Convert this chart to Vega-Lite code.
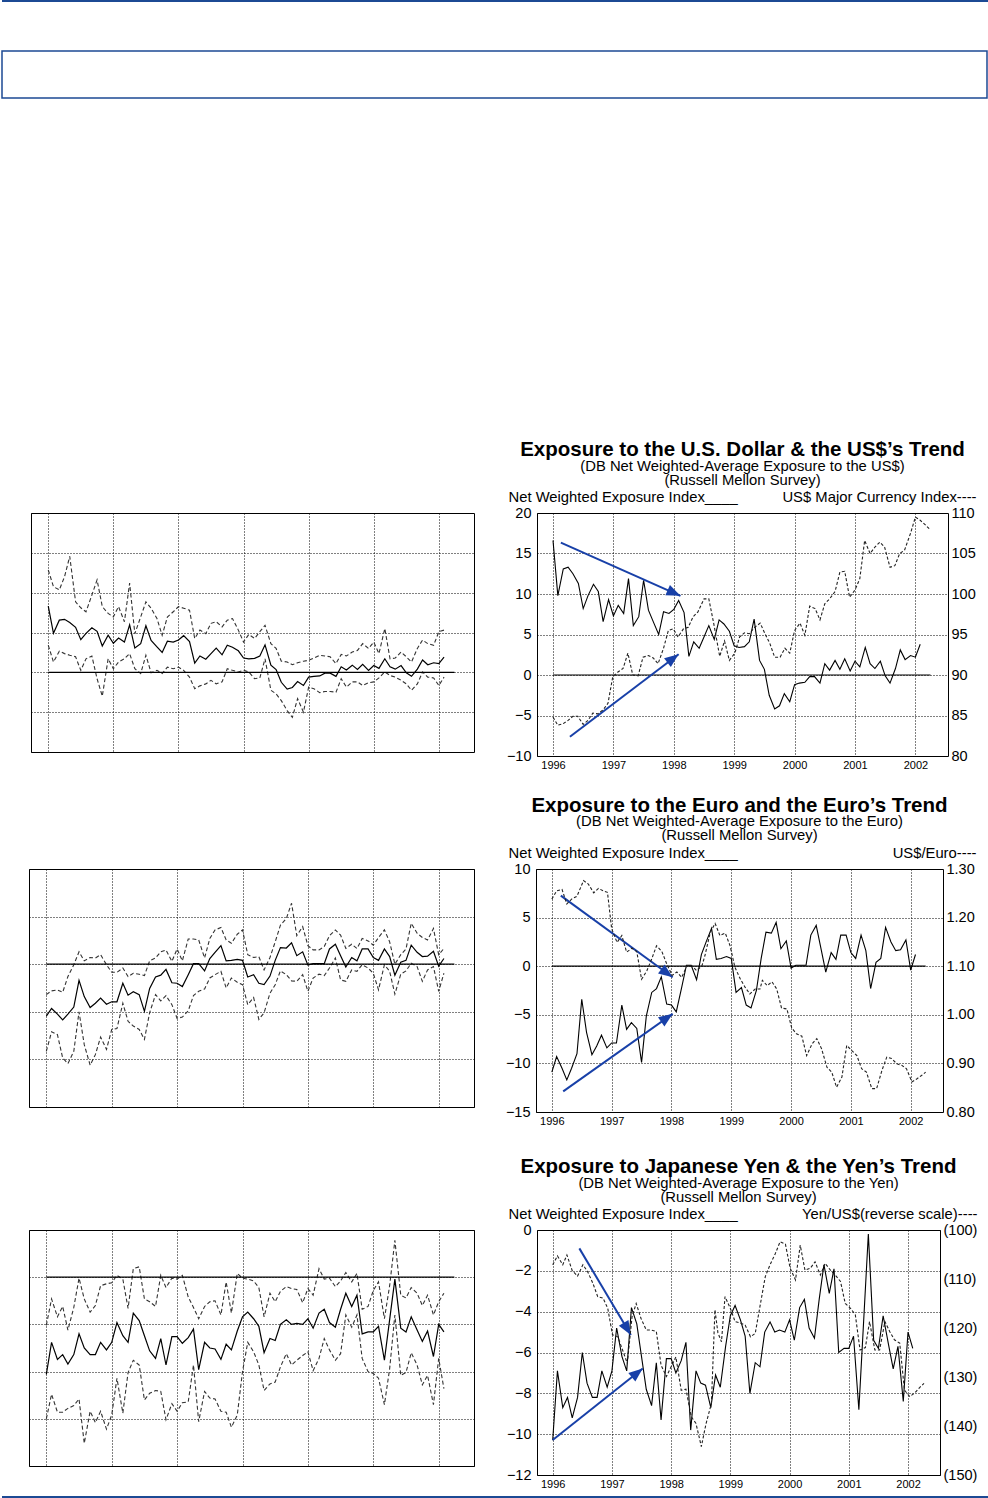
{
"$schema": "https://vega.github.io/schema/vega-lite/v6.json",
"padding": {"left": 1, "top": 0, "right": 0, "bottom": 0},
"spacing": 0,
"align": "each",
"datasets": {
"usd": [
{"t":1996,"n":16.6,"u":25.7,"l":6.8},{"t":1996.08,"n":9.8,"u":21.5,"l":2.6},{"t":1996.17,"n":13.1,"u":20.7,"l":5.3},{"t":1996.25,"n":13.3,"u":24.0,"l":4.7},{"t":1996.33,"n":12.5,"u":29.1,"l":4.3},{"t":1996.42,"n":11.3,"u":17.7,"l":3.9},{"t":1996.5,"n":8.2,"u":16.2,"l":0.5},{"t":1996.58,"n":9.8,"u":15.2,"l":3.4},{"t":1996.67,"n":11.2,"u":19.4,"l":4.1},{"t":1996.75,"n":10.3,"u":23.2,"l":-1.6},{"t":1996.83,"n":6.6,"u":16.5,"l":-6.0},{"t":1996.92,"n":9.3,"u":14.8,"l":3.4},
{"t":1997,"n":7.3,"u":13.9,"l":0.9},{"t":1997.08,"n":8.6,"u":16.5,"l":2.6},{"t":1997.17,"n":7.6,"u":12.7,"l":3.4},{"t":1997.25,"n":11.9,"u":22.4,"l":4.7},{"t":1997.33,"n":6.1,"u":9.7,"l":0.9},{"t":1997.42,"n":7.2,"u":13.9,"l":-0.3},{"t":1997.5,"n":11.7,"u":17.7,"l":4.3},{"t":1997.58,"n":8.0,"u":16.1,"l":-0.1},{"t":1997.67,"n":6.4,"u":13.5,"l":0.5},{"t":1997.75,"n":5.0,"u":9.3,"l":-0.3},{"t":1997.83,"n":7.8,"u":13.9,"l":1.3},{"t":1997.92,"n":7.6,"u":15.2,"l":0.9},
{"t":1998,"n":8.1,"u":16.5,"l":1.3},{"t":1998.08,"n":9.2,"u":16.1,"l":0.5},{"t":1998.17,"n":7.7,"u":15.6,"l":-1.2},{"t":1998.25,"n":2.3,"u":8.5,"l":-4.1},{"t":1998.33,"n":4.1,"u":10.6,"l":-3.4},{"t":1998.42,"n":3.3,"u":9.7,"l":-2.9},{"t":1998.5,"n":4.7,"u":12.3,"l":-2.0},{"t":1998.58,"n":6.1,"u":12.7,"l":-2.9},{"t":1998.67,"n":4.4,"u":11.4,"l":-2.4},{"t":1998.75,"n":6.8,"u":13.1,"l":0.9},{"t":1998.83,"n":6.3,"u":13.5,"l":0.5},{"t":1998.92,"n":5.4,"u":10.6,"l":0.1},
{"t":1999,"n":3.6,"u":7.6,"l":0.5},{"t":1999.08,"n":3.4,"u":9.5,"l":0.1},{"t":1999.17,"n":3.5,"u":8.5,"l":-1.6},{"t":1999.25,"n":4.1,"u":10.2,"l":-1.4},{"t":1999.33,"n":6.9,"u":11.8,"l":3.4},{"t":1999.42,"n":1.8,"u":7.2,"l":-4.5},{"t":1999.5,"n":0.7,"u":6.0,"l":-5.4},{"t":1999.58,"n":-2.5,"u":2.8,"l":-7.1},{"t":1999.67,"n":-4.2,"u":2.6,"l":-9.6},{"t":1999.75,"n":-3.8,"u":1.9,"l":-11.3},{"t":1999.83,"n":-2.3,"u":2.4,"l":-6.6},{"t":1999.92,"n":-3.3,"u":2.8,"l":-10.0},
{"t":2000,"n":-1.2,"u":3.0,"l":-3.7},{"t":2000.08,"n":-1.0,"u":3.6,"l":-4.1},{"t":2000.17,"n":-0.9,"u":4.3,"l":-5.1},{"t":2000.25,"n":-0.2,"u":4.1,"l":-4.8},{"t":2000.33,"n":-0.2,"u":3.9,"l":-4.8},{"t":2000.42,"n":-1.0,"u":2.2,"l":-5.0},{"t":2000.5,"n":1.4,"u":4.5,"l":-1.6},{"t":2000.58,"n":0.6,"u":4.1,"l":-3.7},{"t":2000.67,"n":1.8,"u":5.1,"l":-2.4},{"t":2000.75,"n":0.7,"u":5.5,"l":-2.4},{"t":2000.83,"n":2.0,"u":7.2,"l":-3.3},{"t":2000.92,"n":0.5,"u":6.0,"l":-2.6},
{"t":2001,"n":1.7,"u":7.6,"l":-2.4},{"t":2001.08,"n":1.0,"u":4.7,"l":-1.4},{"t":2001.17,"n":3.4,"u":11.0,"l":0.1},{"t":2001.25,"n":1.4,"u":3.4,"l":-0.8},{"t":2001.33,"n":0.8,"u":3.6,"l":-1.2},{"t":2001.42,"n":1.7,"u":5.1,"l":-2.0},{"t":2001.5,"n":-0.1,"u":3.9,"l":-2.9},{"t":2001.58,"n":-1.0,"u":2.6,"l":-4.5},{"t":2001.67,"n":0.8,"u":6.0,"l":-2.9},{"t":2001.75,"n":3.1,"u":8.1,"l":0.1},{"t":2001.83,"n":1.9,"u":7.2,"l":-1.2},{"t":2001.92,"n":2.4,"u":6.8,"l":-1.4},
{"t":2002,"n":2.2,"u":10.2,"l":-3.3},{"t":2002.08,"n":3.8,"u":10.6,"l":-1.2}
],
"usdx": [
{"t":1996,"v":84.8},{"t":1996.08,"v":83.8},{"t":1996.17,"v":84.0},{"t":1996.25,"v":84.4},{"t":1996.33,"v":84.9},{"t":1996.41,"v":84.9},{"t":1996.5,"v":83.9},{"t":1996.58,"v":84.4},{"t":1996.66,"v":85.3},{"t":1996.74,"v":85.2},{"t":1996.83,"v":85.7},{"t":1996.91,"v":86.5},
{"t":1996.99,"v":89.8},{"t":1997.08,"v":90.4},{"t":1997.16,"v":90.8},{"t":1997.24,"v":92.7},{"t":1997.32,"v":90.0},{"t":1997.41,"v":89.9},{"t":1997.49,"v":92.2},{"t":1997.58,"v":92.4},{"t":1997.66,"v":92.1},{"t":1997.74,"v":91.4},{"t":1997.83,"v":93.3},{"t":1997.91,"v":95.5},
{"t":1997.99,"v":95.7},{"t":1998.07,"v":94.7},{"t":1998.16,"v":95.7},{"t":1998.24,"v":95.9},{"t":1998.32,"v":97.2},{"t":1998.4,"v":97.8},{"t":1998.5,"v":99.4},{"t":1998.58,"v":99.4},{"t":1998.66,"v":96.4},{"t":1998.76,"v":92.3},{"t":1998.84,"v":94.2},{"t":1998.92,"v":91.8},
{"t":1999.01,"v":92.7},{"t":1999.09,"v":94.7},{"t":1999.17,"v":95.2},{"t":1999.25,"v":95.1},{"t":1999.34,"v":95.9},{"t":1999.43,"v":96.4},{"t":1999.51,"v":95.1},{"t":1999.59,"v":93.9},{"t":1999.67,"v":92.2},{"t":1999.76,"v":92.2},{"t":1999.84,"v":93.3},{"t":1999.92,"v":92.7},
{"t":2000,"v":95.5},{"t":2000.09,"v":96.4},{"t":2000.17,"v":94.9},{"t":2000.25,"v":98.5},{"t":2000.34,"v":98.2},{"t":2000.42,"v":96.8},{"t":2000.5,"v":98.8},{"t":2000.58,"v":99.4},{"t":2000.67,"v":100.3},{"t":2000.75,"v":102.7},{"t":2000.83,"v":102.8},{"t":2000.91,"v":99.6},
{"t":2001,"v":100.5},{"t":2001.08,"v":101.9},{"t":2001.16,"v":106.6},{"t":2001.25,"v":105.0},{"t":2001.33,"v":105.8},{"t":2001.41,"v":106.4},{"t":2001.49,"v":105.8},{"t":2001.58,"v":103.3},{"t":2001.66,"v":103.5},{"t":2001.74,"v":105.0},{"t":2001.82,"v":105.4},{"t":2001.92,"v":107.5},
{"t":2002,"v":109.5},{"t":2002.08,"v":109.1},{"t":2002.17,"v":108.5},{"t":2002.25,"v":107.9}
],
"eur": [
{"t":1996,"n":-10.9,"u":-6.4,"l":-18.3},{"t":1996.08,"n":-9.3,"u":-5.6,"l":-14.2},{"t":1996.17,"n":-10.5,"u":-5.4,"l":-14.8},{"t":1996.25,"n":-11.7,"u":-5.9,"l":-19.7},{"t":1996.33,"n":-10.5,"u":-2.6,"l":-20.9},{"t":1996.42,"n":-9.0,"u":-0.1,"l":-18.3},{"t":1996.5,"n":-3.4,"u":2.6,"l":-10.0},{"t":1996.58,"n":-6.8,"u":0.7,"l":-16.9},{"t":1996.67,"n":-9.1,"u":1.4,"l":-21.2},{"t":1996.75,"n":-8.2,"u":1.3,"l":-19.0},{"t":1996.83,"n":-7.1,"u":2.0,"l":-15.3},{"t":1996.92,"n":-8.4,"u":-0.1,"l":-17.9},
{"t":1997,"n":-7.9,"u":-1.7,"l":-13.7},{"t":1997.08,"n":-7.9,"u":-1.7,"l":-13.5},{"t":1997.17,"n":-4.0,"u":-0.8,"l":-8.2},{"t":1997.25,"n":-6.5,"u":-2.6,"l":-12.0},{"t":1997.33,"n":-5.8,"u":-1.9,"l":-13.0},{"t":1997.42,"n":-6.4,"u":-2.1,"l":-13.7},{"t":1997.5,"n":-9.9,"u":-2.4,"l":-15.8},{"t":1997.58,"n":-5.1,"u":0.7,"l":-10.2},{"t":1997.67,"n":-2.7,"u":1.3,"l":-6.4},{"t":1997.75,"n":-2.3,"u":2.6,"l":-7.7},{"t":1997.83,"n":-1.1,"u":3.0,"l":-6.6},{"t":1997.92,"n":-3.9,"u":0.6,"l":-8.5},
{"t":1998,"n":-4.0,"u":3.2,"l":-11.4},{"t":1998.08,"n":-4.7,"u":0.7,"l":-11.1},{"t":1998.17,"n":-2.2,"u":5.3,"l":-9.8},{"t":1998.25,"n":0.1,"u":5.3,"l":-6.6},{"t":1998.33,"n":0.1,"u":5.1,"l":-5.7},{"t":1998.42,"n":-1.4,"u":1.3,"l":-5.2},{"t":1998.5,"n":1.2,"u":5.4,"l":-2.9},{"t":1998.58,"n":2.5,"u":7.2,"l":-2.2},{"t":1998.67,"n":3.9,"u":7.7,"l":-1.5},{"t":1998.75,"n":0.7,"u":5.1,"l":-5.0},{"t":1998.83,"n":0.8,"u":4.4,"l":-2.9},{"t":1998.92,"n":1.0,"u":6.3,"l":-3.8},
{"t":1999,"n":0.8,"u":7.2,"l":-4.3},{"t":1999.08,"n":-2.7,"u":2.0,"l":-8.5},{"t":1999.17,"n":-2.2,"u":1.4,"l":-7.0},{"t":1999.25,"n":-4.0,"u":1.6,"l":-11.6},{"t":1999.33,"n":-4.3,"u":-1.2,"l":-10.2},{"t":1999.42,"n":-2.5,"u":1.4,"l":-6.1},{"t":1999.5,"n":0.8,"u":4.7,"l":-4.3},{"t":1999.58,"n":3.5,"u":8.2,"l":-1.4},{"t":1999.67,"n":3.4,"u":9.6,"l":-2.2},{"t":1999.75,"n":4.5,"u":12.8,"l":-3.5},{"t":1999.83,"n":1.8,"u":6.0,"l":-3.6},{"t":1999.92,"n":2.6,"u":7.9,"l":-2.2},
{"t":2000,"n":-0.2,"u":3.9,"l":-5.7},{"t":2000.08,"n":0.1,"u":3.0,"l":-2.9},{"t":2000.17,"n":0.1,"u":3.0,"l":-2.1},{"t":2000.25,"n":0.1,"u":3.7,"l":-2.4},{"t":2000.33,"n":3.2,"u":6.0,"l":-0.8},{"t":2000.42,"n":4.2,"u":7.2,"l":1.3},{"t":2000.5,"n":1.8,"u":6.1,"l":-3.3},{"t":2000.58,"n":-0.6,"u":3.3,"l":-3.6},{"t":2000.67,"n":1.4,"u":4.2,"l":-1.2},{"t":2000.75,"n":0.7,"u":3.3,"l":-1.5},{"t":2000.83,"n":3.2,"u":5.4,"l":-0.1},{"t":2000.92,"n":3.2,"u":4.9,"l":-0.8},
{"t":2001,"n":1.4,"u":4.0,"l":-1.9},{"t":2001.08,"n":0.8,"u":5.6,"l":-5.4},{"t":2001.17,"n":3.2,"u":7.2,"l":-0.1},{"t":2001.25,"n":1.6,"u":4.7,"l":-1.5},{"t":2001.33,"n":-2.3,"u":0.0,"l":-6.3},{"t":2001.42,"n":0.4,"u":2.0,"l":-2.1},{"t":2001.5,"n":0.8,"u":3.2,"l":-1.4},{"t":2001.58,"n":4.0,"u":8.6,"l":0.2},{"t":2001.67,"n":2.5,"u":6.5,"l":-0.5},{"t":2001.75,"n":1.6,"u":5.6,"l":-3.6},{"t":2001.83,"n":1.7,"u":5.1,"l":-1.2},{"t":2001.92,"n":2.7,"u":7.5,"l":-0.5},
{"t":2002,"n":-0.4,"u":2.0,"l":-5.7},{"t":2002.08,"n":1.2,"u":3.3,"l":-1.9}
],
"eurx": [
{"t":1996,"v":1.238},{"t":1996.08,"v":1.255},{"t":1996.17,"v":1.258},{"t":1996.25,"v":1.228},{"t":1996.33,"v":1.238},{"t":1996.42,"v":1.244},{"t":1996.53,"v":1.276},{"t":1996.61,"v":1.269},{"t":1996.7,"v":1.251},{"t":1996.78,"v":1.26},{"t":1996.86,"v":1.255},{"t":1996.93,"v":1.252},
{"t":1997,"v":1.177},{"t":1997.09,"v":1.149},{"t":1997.17,"v":1.163},{"t":1997.25,"v":1.129},{"t":1997.34,"v":1.137},{"t":1997.42,"v":1.13},{"t":1997.5,"v":1.073},{"t":1997.59,"v":1.091},{"t":1997.67,"v":1.115},{"t":1997.75,"v":1.142},{"t":1997.84,"v":1.13},{"t":1997.92,"v":1.105},
{"t":1998.01,"v":1.081},{"t":1998.09,"v":1.088},{"t":1998.17,"v":1.077},{"t":1998.26,"v":1.101},{"t":1998.34,"v":1.101},{"t":1998.42,"v":1.091},{"t":1998.51,"v":1.101},{"t":1998.56,"v":1.122},{"t":1998.65,"v":1.17},{"t":1998.73,"v":1.188},{"t":1998.81,"v":1.163},{"t":1998.9,"v":1.168},{"t":1998.98,"v":1.142},
{"t":1999.06,"v":1.098},{"t":1999.15,"v":1.074},{"t":1999.23,"v":1.057},{"t":1999.31,"v":1.043},{"t":1999.4,"v":1.053},{"t":1999.48,"v":1.053},{"t":1999.52,"v":1.071},{"t":1999.6,"v":1.06},{"t":1999.68,"v":1.068},{"t":1999.76,"v":1.053},{"t":1999.84,"v":1.014},{"t":1999.93,"v":1.012},
{"t":2000.01,"v":0.973},{"t":2000.09,"v":0.961},{"t":2000.18,"v":0.956},{"t":2000.26,"v":0.916},{"t":2000.35,"v":0.94},{"t":2000.43,"v":0.951},{"t":2000.51,"v":0.93},{"t":2000.6,"v":0.892},{"t":2000.68,"v":0.882},{"t":2000.76,"v":0.851},{"t":2000.85,"v":0.872},{"t":2000.93,"v":0.937},
{"t":2001.01,"v":0.927},{"t":2001.1,"v":0.916},{"t":2001.18,"v":0.889},{"t":2001.26,"v":0.882},{"t":2001.35,"v":0.848},{"t":2001.43,"v":0.848},{"t":2001.52,"v":0.886},{"t":2001.6,"v":0.913},{"t":2001.68,"v":0.91},{"t":2001.77,"v":0.899},{"t":2001.85,"v":0.896},{"t":2001.93,"v":0.889},
{"t":2002.02,"v":0.862},{"t":2002.1,"v":0.868},{"t":2002.18,"v":0.875},{"t":2002.25,"v":0.882}
],
"jpy": [
{"t":1996,"n":-10.3,"u":-5.1,"l":-15.0},{"t":1996.08,"n":-6.9,"u":-2.3,"l":-12.4},{"t":1996.17,"n":-8.7,"u":-4.2,"l":-14.3},{"t":1996.25,"n":-8.2,"u":-3.1,"l":-14.3},{"t":1996.33,"n":-9.2,"u":-5.6,"l":-13.9},{"t":1996.42,"n":-8.2,"u":-3.2,"l":-13.6},{"t":1996.5,"n":-6.0,"u":-0.1,"l":-12.9},{"t":1996.58,"n":-7.5,"u":-2.3,"l":-17.6},{"t":1996.67,"n":-8.2,"u":-3.7,"l":-14.2},{"t":1996.75,"n":-8.2,"u":-3.0,"l":-15.4},{"t":1996.83,"n":-6.9,"u":-0.9,"l":-14.2},{"t":1996.92,"n":-7.7,"u":-0.7,"l":-16.1},
{"t":1997,"n":-6.9,"u":-0.6,"l":-14.6},{"t":1997.08,"n":-4.8,"u":0.2,"l":-10.7},{"t":1997.17,"n":-6.2,"u":-0.2,"l":-14.4},{"t":1997.25,"n":-6.9,"u":-3.3,"l":-10.1},{"t":1997.33,"n":-3.8,"u":0.9,"l":-8.8},{"t":1997.42,"n":-4.6,"u":1.1,"l":-9.3},{"t":1997.5,"n":-6.2,"u":-2.3,"l":-13.0},{"t":1997.58,"n":-7.8,"u":-2.6,"l":-12.3},{"t":1997.67,"n":-8.6,"u":-3.1,"l":-12.0},{"t":1997.75,"n":-6.5,"u":0.2,"l":-12.1},{"t":1997.83,"n":-9.3,"u":-1.1,"l":-15.1},{"t":1997.92,"n":-6.3,"u":-0.1,"l":-13.4},
{"t":1998,"n":-6.3,"u":-0.2,"l":-14.2},{"t":1998.08,"n":-7.0,"u":0.2,"l":-13.3},{"t":1998.17,"n":-6.4,"u":-2.1,"l":-13.2},{"t":1998.25,"n":-5.5,"u":-3.2,"l":-9.3},{"t":1998.33,"n":-9.8,"u":-4.4,"l":-15.3},{"t":1998.42,"n":-6.9,"u":-3.1,"l":-12.1},{"t":1998.5,"n":-7.5,"u":-2.6,"l":-12.8},{"t":1998.58,"n":-7.6,"u":-2.5,"l":-12.9},{"t":1998.67,"n":-8.7,"u":-4.0,"l":-14.2},{"t":1998.75,"n":-7.1,"u":-0.5,"l":-14.3},{"t":1998.83,"n":-7.7,"u":-3.8,"l":-15.9},{"t":1998.92,"n":-5.7,"u":0.4,"l":-14.6},
{"t":1999,"n":-4.2,"u":-0.1,"l":-10.0},{"t":1999.08,"n":-3.7,"u":-0.2,"l":-6.9},{"t":1999.17,"n":-4.4,"u":-0.4,"l":-7.9},{"t":1999.25,"n":-5.2,"u":-1.1,"l":-9.3},{"t":1999.33,"n":-8.0,"u":-4.2,"l":-12.0},{"t":1999.42,"n":-6.5,"u":-1.7,"l":-11.3},{"t":1999.5,"n":-6.7,"u":-2.6,"l":-11.1},{"t":1999.58,"n":-5.0,"u":-1.5,"l":-9.5},{"t":1999.67,"n":-4.5,"u":-1.0,"l":-8.1},{"t":1999.75,"n":-5.0,"u":-1.2,"l":-9.3},{"t":1999.83,"n":-4.9,"u":-1.3,"l":-8.8},{"t":1999.92,"n":-5.0,"u":-2.7,"l":-8.3},
{"t":2000,"n":-4.4,"u":-1.2,"l":-7.9},{"t":2000.08,"n":-5.4,"u":-1.9,"l":-9.9},{"t":2000.17,"n":-3.8,"u":0.9,"l":-8.6},{"t":2000.25,"n":-3.4,"u":-0.2,"l":-6.5},{"t":2000.33,"n":-4.8,"u":-0.1,"l":-7.7},{"t":2000.42,"n":-5.3,"u":-1.0,"l":-8.8},{"t":2000.5,"n":-3.4,"u":-0.4,"l":-8.1},{"t":2000.58,"n":-1.7,"u":0.5,"l":-4.0},{"t":2000.67,"n":-3.1,"u":-0.5,"l":-5.3},{"t":2000.75,"n":-1.9,"u":0.4,"l":-4.0},{"t":2000.83,"n":-6.0,"u":-3.4,"l":-8.6},{"t":2000.92,"n":-5.8,"u":-3.1,"l":-10.0},
{"t":2001,"n":-5.8,"u":-1.4,"l":-10.2},{"t":2001.08,"n":-5.2,"u":-0.5,"l":-10.7},{"t":2001.17,"n":-8.8,"u":-4.4,"l":-13.5},{"t":2001.25,"n":-4.5,"u":-0.9,"l":-9.7},{"t":2001.33,"n":-0.2,"u":3.9,"l":-4.0},{"t":2001.42,"n":-5.4,"u":-1.9,"l":-10.4},{"t":2001.5,"n":-5.8,"u":-2.2,"l":-10.1},{"t":2001.58,"n":-4.2,"u":-1.1,"l":-8.0},{"t":2001.67,"n":-5.6,"u":-1.7,"l":-9.3},{"t":2001.75,"n":-6.8,"u":-3.0,"l":-11.4},{"t":2001.83,"n":-5.7,"u":-1.9,"l":-10.4},{"t":2001.92,"n":-8.4,"u":-4.0,"l":-13.5},
{"t":2002,"n":-5.0,"u":-2.6,"l":-8.6},{"t":2002.08,"n":-5.8,"u":-1.7,"l":-11.8}
],
"jpyx": [
{"t":1996,"v":107.1},{"t":1996.08,"v":105.3},{"t":1996.17,"v":107.1},{"t":1996.24,"v":105.1},{"t":1996.33,"v":108.3},{"t":1996.42,"v":109.4},{"t":1996.51,"v":107.1},{"t":1996.59,"v":108.5},{"t":1996.68,"v":110.9},{"t":1996.76,"v":113.6},{"t":1996.85,"v":113.9},{"t":1996.93,"v":116.0},
{"t":1997.01,"v":121.4},{"t":1997.1,"v":121.8},{"t":1997.18,"v":124.5},{"t":1997.26,"v":127.2},{"t":1997.34,"v":117.7},{"t":1997.41,"v":115.0},{"t":1997.49,"v":118.0},{"t":1997.58,"v":120.4},{"t":1997.66,"v":120.4},{"t":1997.75,"v":120.7},{"t":1997.83,"v":127.6},{"t":1997.92,"v":129.9},
{"t":1998,"v":127.9},{"t":1998.08,"v":125.9},{"t":1998.17,"v":132.7},{"t":1998.25,"v":132.5},{"t":1998.34,"v":138.1},{"t":1998.42,"v":139.5},{"t":1998.51,"v":144.2},{"t":1998.59,"v":139.5},{"t":1998.68,"v":135.4},{"t":1998.74,"v":116.3},{"t":1998.79,"v":121.0},{"t":1998.85,"v":122.8},{"t":1998.91,"v":113.6},
{"t":1999,"v":116.0},{"t":1999.08,"v":118.7},{"t":1999.17,"v":119.0},{"t":1999.25,"v":119.4},{"t":1999.34,"v":121.8},{"t":1999.42,"v":121.1},{"t":1999.5,"v":115.6},{"t":1999.59,"v":109.5},{"t":1999.67,"v":107.1},{"t":1999.76,"v":104.8},{"t":1999.84,"v":102.4},{"t":1999.93,"v":102.9},
{"t":2000.01,"v":107.8},{"t":2000.1,"v":110.2},{"t":2000.18,"v":103.1},{"t":2000.26,"v":108.2},{"t":2000.35,"v":107.8},{"t":2000.43,"v":106.5},{"t":2000.52,"v":109.2},{"t":2000.6,"v":106.8},{"t":2000.69,"v":108.2},{"t":2000.77,"v":109.2},{"t":2000.86,"v":110.5},{"t":2000.94,"v":115.0},
{"t":2001.03,"v":116.0},{"t":2001.11,"v":117.3},{"t":2001.19,"v":124.5},{"t":2001.28,"v":124.0},{"t":2001.35,"v":118.7},{"t":2001.44,"v":124.5},{"t":2001.52,"v":124.5},{"t":2001.61,"v":118.7},{"t":2001.69,"v":120.7},{"t":2001.77,"v":122.4},{"t":2001.86,"v":123.1},{"t":2001.94,"v":132.7},
{"t":2002.03,"v":134.0},{"t":2002.11,"v":133.3},{"t":2002.2,"v":132.1},{"t":2002.27,"v":131.3}
],
"arrows": [
{"c":"usd","k":"a","t":1996.13,"y":16.34,"e":1998.11,"f":9.77},
{"c":"usd","k":"b","t":1996.28,"y":-7.62,"e":1998.08,"f":2.57},
{"c":"eur","k":"a","t":1996.15,"y":7.26,"e":1998.02,"f":-1.13},
{"c":"eur","k":"b","t":1996.19,"y":-12.88,"e":1998.02,"f":-4.9},
{"c":"jpy","k":"a","t":1996.45,"y":-0.9,"e":1997.32,"f":-5.14},
{"c":"jpy","k":"b","t":1996.0,"y":-10.29,"e":1997.52,"f":-6.78}
]
},
"vconcat": [
{"width": 986, "height": 2, "view": {"fill": "#1c4a94", "stroke": null}, "data": {"values": []}, "mark": "point", "encoding": {}},
{"width": 1, "height": 48, "data": {"values": []}, "mark": "point", "encoding": {}},
{"width": 985, "height": 47, "view": {"stroke": "#1c4a94", "strokeWidth": 1.5}, "data": {"values": []}, "mark": "point", "encoding": {}},
{"width": 1, "height": 340, "data": {"values": []}, "mark": "point", "encoding": {}},
{"hconcat": [
{"width": 29, "height": 1, "data": {"values": []}, "mark": "point", "encoding": {}},
{"width": 443, "height": 239, "view": {"stroke": "#000"},
 "encoding": {
  "x": {"field": "t", "type": "quantitative", "scale": {"domain": [1995.735, 2002.54], "nice": false, "zero": false}, "axis": {"values": [1996,1997,1998,1999,2000,2001,2002], "labels": false, "title": null, "grid": true}},
  "y": {"field": "y", "type": "quantitative", "scale": {"domain": [-20, 40], "nice": false, "zero": false}, "axis": {"values": [-20,-10,0,10,20,30,40], "labels": false, "title": null, "grid": true}}},
 "layer": [
  {"data": {"name": "usd"}, "transform": [{"fold": ["u", "l"], "as": ["s", "y"]}], "mark": {"type": "line", "color": "#333", "strokeDash": [4, 2.5], "strokeWidth": 1.1}, "encoding": {"detail": {"field": "s", "type": "nominal"}}},
  {"data": {"name": "usd"}, "transform": [{"fold": ["n"], "as": ["s", "y"]}], "mark": {"type": "line", "color": "#000", "strokeWidth": 1.2}},
  {"data": {"values": [{"t": 1996, "e": 2002.24, "y": 0}]}, "mark": {"type": "rule", "color": "#000", "strokeWidth": 1.2}, "encoding": {"x2": {"field": "e"}}}
 ]},
{"width": 63, "height": 1, "data": {"values": []}, "mark": "point", "encoding": {}},
{"width": 411, "height": 243, "view": {"stroke": "#000"},
 "title": {"text": "Exposure to the U.S. Dollar & the US$’s Trend", "subtitle": ["(DB Net Weighted-Average Exposure to the US$)", "(Russell Mellon Survey)"], "frame": "group", "anchor": "middle", "offset": 2, "fontSize": 20.5, "fontWeight": "bold", "color": "#000", "subtitleFontSize": 14.8, "subtitleColor": "#000", "subtitlePadding": -2, "subtitleLineHeight": 14},
 "encoding": {"x": {"field": "t", "type": "quantitative", "scale": {"domain": [1995.735, 2002.54], "nice": false, "zero": false}, "axis": {"values": [1996,1997,1998,1999,2000,2001,2002], "format": "d", "labelFontSize": 11, "labelPadding": 3, "title": null, "grid": true}}},
 "layer": [
  {"encoding": {"y": {"field": "y", "type": "quantitative", "scale": {"domain": [-10, 20], "nice": false, "zero": false}, "axis": {"values": [-10,-5,0,5,10,15,20], "labelFontSize": 14.5, "labelPadding": 6, "grid": true, "title": "Net Weighted Exposure Index____", "titleAngle": 0, "titleAlign": "left", "titleBaseline": "alphabetic", "titleX": -29, "titleY": -11.5, "titleFontSize": 14.8}}},
   "layer": [
    {"data": {"name": "usd"}, "transform": [{"fold": ["n"], "as": ["s", "y"]}], "mark": {"type": "line", "color": "#000", "strokeWidth": 1.1}},
    {"data": {"values": [{"t": 1996, "e": 2002.25, "y": 0}]}, "mark": {"type": "rule", "color": "#000", "strokeWidth": 1.2}, "encoding": {"x2": {"field": "e"}}},
    {"data": {"name": "arrows"}, "transform": [{"filter": "datum.c == 'usd'"}], "mark": {"type": "rule", "color": "#1840a8", "strokeWidth": 2}, "encoding": {"x2": {"field": "e"}, "y2": {"field": "f"}}},
    {"data": {"name": "arrows"}, "transform": [{"filter": "datum.c == 'usd' && datum.k == 'a'"}], "mark": {"type": "point", "shape": "M0,0L-0.8,2L0.8,2Z", "filled": true, "color": "#1840a8", "opacity": 1, "size": 196, "angle": 114}, "encoding": {"x": {"field": "e", "type": "quantitative", "title": null}, "y": {"field": "f", "type": "quantitative", "title": null}}},
    {"data": {"name": "arrows"}, "transform": [{"filter": "datum.c == 'usd' && datum.k == 'b'"}], "mark": {"type": "point", "shape": "M0,0L-0.8,2L0.8,2Z", "filled": true, "color": "#1840a8", "opacity": 1, "size": 196, "angle": 53}, "encoding": {"x": {"field": "e", "type": "quantitative", "title": null}, "y": {"field": "f", "type": "quantitative", "title": null}}}
   ]},
  {"data": {"name": "usdx"}, "mark": {"type": "line", "color": "#222", "strokeDash": [3, 2], "strokeWidth": 1.1},
   "encoding": {"y": {"field": "v", "type": "quantitative", "scale": {"domain": [80, 110], "nice": false, "zero": false}, "axis": {"orient": "right", "values": [80,85,90,95,100,105,110], "labelFontSize": 14.5, "labelPadding": 3, "grid": false, "title": "US$ Major Currency Index----", "titleAngle": 0, "titleAlign": "right", "titleBaseline": "alphabetic", "titleX": 28, "titleY": -11.5, "titleFontSize": 14.8}}}}
 ],
 "resolve": {"scale": {"y": "independent"}}}
], "spacing": 0, "bounds": "flush"},
{"width": 1, "height": 24, "data": {"values": []}, "mark": "point", "encoding": {}},
{"hconcat": [
{"width": 27, "height": 1, "data": {"values": []}, "mark": "point", "encoding": {}},
{"width": 445, "height": 238, "view": {"stroke": "#000"},
 "encoding": {
  "x": {"field": "t", "type": "quantitative", "scale": {"domain": [1995.735, 2002.54], "nice": false, "zero": false}, "axis": {"values": [1996,1997,1998,1999,2000,2001,2002], "labels": false, "title": null, "grid": true}},
  "y": {"field": "y", "type": "quantitative", "scale": {"domain": [-30, 20], "nice": false, "zero": false}, "axis": {"values": [-30,-20,-10,0,10,20], "labels": false, "title": null, "grid": true}}},
 "layer": [
  {"data": {"name": "eur"}, "transform": [{"fold": ["u", "l"], "as": ["s", "y"]}], "mark": {"type": "line", "color": "#333", "strokeDash": [4, 2.5], "strokeWidth": 1.1}, "encoding": {"detail": {"field": "s", "type": "nominal"}}},
  {"data": {"name": "eur"}, "transform": [{"fold": ["n"], "as": ["s", "y"]}], "mark": {"type": "line", "color": "#000", "strokeWidth": 1.2}},
  {"data": {"values": [{"t": 1996, "e": 2002.24, "y": 0}]}, "mark": {"type": "rule", "color": "#000", "strokeWidth": 1.2}, "encoding": {"x2": {"field": "e"}}}
 ]},
{"width": 62, "height": 1, "data": {"values": []}, "mark": "point", "encoding": {}},
{"width": 407, "height": 243, "view": {"stroke": "#000"},
 "title": {"text": "Exposure to the Euro and the Euro’s Trend", "subtitle": ["(DB Net Weighted-Average Exposure to the Euro)", "(Russell Mellon Survey)"], "frame": "group", "anchor": "middle", "offset": 2, "fontSize": 20.5, "fontWeight": "bold", "color": "#000", "subtitleFontSize": 14.8, "subtitleColor": "#000", "subtitlePadding": -2, "subtitleLineHeight": 14},
 "encoding": {"x": {"field": "t", "type": "quantitative", "scale": {"domain": [1995.735, 2002.54], "nice": false, "zero": false}, "axis": {"values": [1996,1997,1998,1999,2000,2001,2002], "format": "d", "labelFontSize": 11, "labelPadding": 3, "title": null, "grid": true}}},
 "layer": [
  {"encoding": {"y": {"field": "y", "type": "quantitative", "scale": {"domain": [-15, 10], "nice": false, "zero": false}, "axis": {"values": [-15,-10,-5,0,5,10], "labelFontSize": 14.5, "labelPadding": 6, "grid": true, "title": "Net Weighted Exposure Index____", "titleAngle": 0, "titleAlign": "left", "titleBaseline": "alphabetic", "titleX": -28, "titleY": -12, "titleFontSize": 14.8}}},
   "layer": [
    {"data": {"name": "eur"}, "transform": [{"fold": ["n"], "as": ["s", "y"]}], "mark": {"type": "line", "color": "#000", "strokeWidth": 1.1}},
    {"data": {"values": [{"t": 1996, "e": 2002.25, "y": 0}]}, "mark": {"type": "rule", "color": "#000", "strokeWidth": 1.2}, "encoding": {"x2": {"field": "e"}}},
    {"data": {"name": "arrows"}, "transform": [{"filter": "datum.c == 'eur'"}], "mark": {"type": "rule", "color": "#1840a8", "strokeWidth": 2}, "encoding": {"x2": {"field": "e"}, "y2": {"field": "f"}}},
    {"data": {"name": "arrows"}, "transform": [{"filter": "datum.c == 'eur' && datum.k == 'a'"}], "mark": {"type": "point", "shape": "M0,0L-0.8,2L0.8,2Z", "filled": true, "color": "#1840a8", "opacity": 1, "size": 196, "angle": 126}, "encoding": {"x": {"field": "e", "type": "quantitative", "title": null}, "y": {"field": "f", "type": "quantitative", "title": null}}},
    {"data": {"name": "arrows"}, "transform": [{"filter": "datum.c == 'eur' && datum.k == 'b'"}], "mark": {"type": "point", "shape": "M0,0L-0.8,2L0.8,2Z", "filled": true, "color": "#1840a8", "opacity": 1, "size": 196, "angle": 55}, "encoding": {"x": {"field": "e", "type": "quantitative", "title": null}, "y": {"field": "f", "type": "quantitative", "title": null}}}
   ]},
  {"data": {"name": "eurx"}, "mark": {"type": "line", "color": "#222", "strokeDash": [3, 2], "strokeWidth": 1.1},
   "encoding": {"y": {"field": "v", "type": "quantitative", "scale": {"domain": [0.8, 1.3], "nice": false, "zero": false}, "axis": {"orient": "right", "values": [0.8,0.9,1.0,1.1,1.2,1.3], "format": ".2f", "labelFontSize": 14.5, "labelPadding": 3, "grid": false, "title": "US$/Euro----", "titleAngle": 0, "titleAlign": "right", "titleBaseline": "alphabetic", "titleX": 33, "titleY": -12, "titleFontSize": 14.8}}}}
 ],
 "resolve": {"scale": {"y": "independent"}}}
], "spacing": 0, "bounds": "flush"},
{"width": 1, "height": 29, "data": {"values": []}, "mark": "point", "encoding": {}},
{"hconcat": [
{"width": 27, "height": 1, "data": {"values": []}, "mark": "point", "encoding": {}},
{"width": 445, "height": 236, "view": {"stroke": "#000"},
 "encoding": {
  "x": {"field": "t", "type": "quantitative", "scale": {"domain": [1995.735, 2002.54], "nice": false, "zero": false}, "axis": {"values": [1996,1997,1998,1999,2000,2001,2002], "labels": false, "title": null, "grid": true}},
  "y": {"field": "y", "type": "quantitative", "scale": {"domain": [-20, 5], "nice": false, "zero": false}, "axis": {"values": [-20,-15,-10,-5,0,5], "labels": false, "title": null, "grid": true}}},
 "layer": [
  {"data": {"name": "jpy"}, "transform": [{"fold": ["u", "l"], "as": ["s", "y"]}], "mark": {"type": "line", "color": "#333", "strokeDash": [4, 2.5], "strokeWidth": 1.1}, "encoding": {"detail": {"field": "s", "type": "nominal"}}},
  {"data": {"name": "jpy"}, "transform": [{"fold": ["n"], "as": ["s", "y"]}], "mark": {"type": "line", "color": "#000", "strokeWidth": 1.2}},
  {"data": {"values": [{"t": 1996, "e": 2002.24, "y": 0}]}, "mark": {"type": "rule", "color": "#000", "strokeWidth": 1.2}, "encoding": {"x2": {"field": "e"}}}
 ]},
{"width": 63, "height": 1, "data": {"values": []}, "mark": "point", "encoding": {}},
{"width": 403, "height": 245, "view": {"stroke": "#000"},
 "title": {"text": "Exposure to Japanese Yen & the Yen’s Trend", "subtitle": ["(DB Net Weighted-Average Exposure to the Yen)", "(Russell Mellon Survey)"], "frame": "group", "anchor": "middle", "offset": 2, "fontSize": 20.5, "fontWeight": "bold", "color": "#000", "subtitleFontSize": 14.8, "subtitleColor": "#000", "subtitlePadding": -2, "subtitleLineHeight": 14},
 "encoding": {"x": {"field": "t", "type": "quantitative", "scale": {"domain": [1995.735, 2002.54], "nice": false, "zero": false}, "axis": {"values": [1996,1997,1998,1999,2000,2001,2002], "format": "d", "labelFontSize": 11, "labelPadding": 3, "title": null, "grid": true}}},
 "layer": [
  {"encoding": {"y": {"field": "y", "type": "quantitative", "scale": {"domain": [-12, 0], "nice": false, "zero": false}, "axis": {"values": [-12,-10,-8,-6,-4,-2,0], "labelFontSize": 14.5, "labelPadding": 6, "grid": true, "title": "Net Weighted Exposure Index____", "titleAngle": 0, "titleAlign": "left", "titleBaseline": "alphabetic", "titleX": -29, "titleY": -11.5, "titleFontSize": 14.8}}},
   "layer": [
    {"data": {"name": "jpy"}, "transform": [{"fold": ["n"], "as": ["s", "y"]}], "mark": {"type": "line", "color": "#000", "strokeWidth": 1.1}},
    {"data": {"name": "arrows"}, "transform": [{"filter": "datum.c == 'jpy'"}], "mark": {"type": "rule", "color": "#1840a8", "strokeWidth": 2}, "encoding": {"x2": {"field": "e"}, "y2": {"field": "f"}}},
    {"data": {"name": "arrows"}, "transform": [{"filter": "datum.c == 'jpy' && datum.k == 'a'"}], "mark": {"type": "point", "shape": "M0,0L-0.8,2L0.8,2Z", "filled": true, "color": "#1840a8", "opacity": 1, "size": 196, "angle": 149}, "encoding": {"x": {"field": "e", "type": "quantitative", "title": null}, "y": {"field": "f", "type": "quantitative", "title": null}}},
    {"data": {"name": "arrows"}, "transform": [{"filter": "datum.c == 'jpy' && datum.k == 'b'"}], "mark": {"type": "point", "shape": "M0,0L-0.8,2L0.8,2Z", "filled": true, "color": "#1840a8", "opacity": 1, "size": 196, "angle": 51}, "encoding": {"x": {"field": "e", "type": "quantitative", "title": null}, "y": {"field": "f", "type": "quantitative", "title": null}}}
   ]},
  {"data": {"name": "jpyx"}, "mark": {"type": "line", "color": "#222", "strokeDash": [3, 2], "strokeWidth": 1.1},
   "encoding": {"y": {"field": "v", "type": "quantitative", "scale": {"domain": [100, 150], "reverse": true, "nice": false, "zero": false}, "axis": {"orient": "right", "values": [100,110,120,130,140,150], "labelExpr": "'(' + datum.label + ')'", "labelFontSize": 14.5, "labelPadding": 3, "grid": false, "title": "Yen/US$(reverse scale)----", "titleAngle": 0, "titleAlign": "right", "titleBaseline": "alphabetic", "titleX": 37, "titleY": -11.5, "titleFontSize": 14.8}}}}
 ],
 "resolve": {"scale": {"y": "independent"}}}
], "spacing": 0, "bounds": "flush"},
{"width": 1, "height": 6, "data": {"values": []}, "mark": "point", "encoding": {}},
{"width": 986, "height": 2, "view": {"fill": "#1c4a94", "stroke": null}, "data": {"values": []}, "mark": "point", "encoding": {}}
],
"config": {
 "font": "Liberation Sans",
 "view": {"stroke": null},
 "axis": {"domain": false, "ticks": false, "labelFlush": false, "gridColor": "#000", "gridDash": [1, 2], "gridOpacity": 1, "gridWidth": 1, "labelColor": "#000", "labelFont": "Liberation Sans", "titleColor": "#000", "titleFont": "Liberation Sans", "titleFontWeight": "normal"},
 "title": {"font": "Liberation Sans", "subtitleFont": "Liberation Sans"}
}
}
